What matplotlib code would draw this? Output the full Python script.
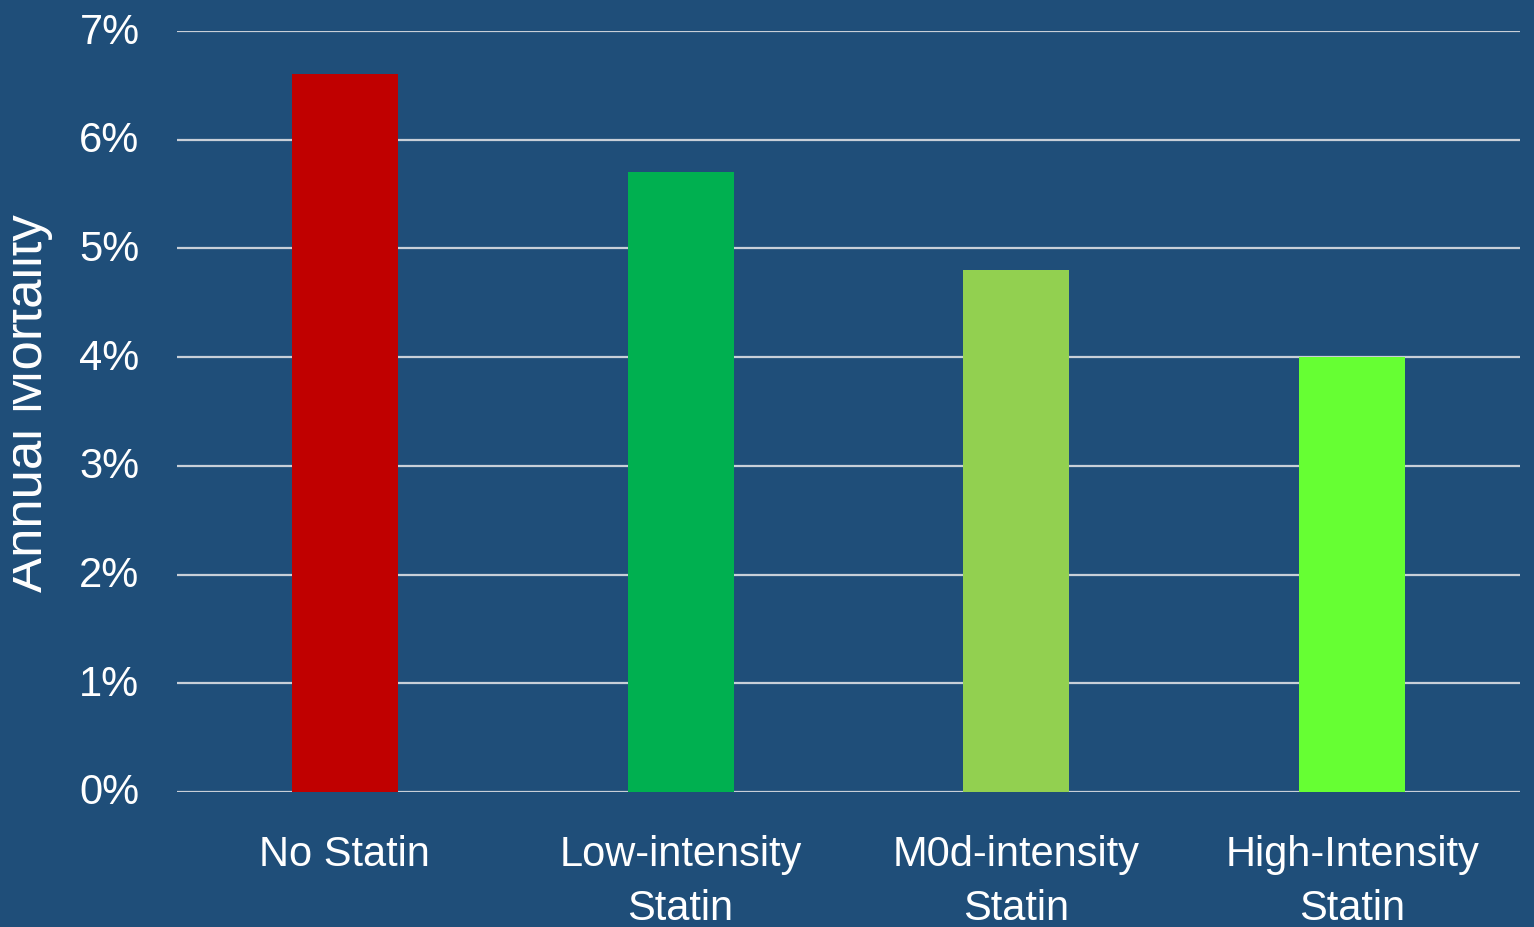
import matplotlib
matplotlib.use("Agg")
import matplotlib.pyplot as plt
from matplotlib.ticker import FuncFormatter
from matplotlib.transforms import Bbox, TransformedBbox, ScaledTranslation

categories = ["No Statin", "Low-intensity\nStatin", "M0d-intensity\nStatin", "High-Intensity\nStatin"]
values = [6.6, 5.7, 4.8, 4.0]
bar_colors = ["#C00000", "#00B050", "#92D050", "#66FF33"]
y_ticks = [0, 1, 2, 3, 4, 5, 6, 7]
y_label = "Annual Mortality"

BG = "#1F4E79"
W, H = 1534, 928
plt.rcParams["font.family"] = ["Liberation Sans", "DejaVu Sans"]

fig = plt.figure(figsize=(W / 100, H / 100), dpi=100, facecolor=BG)
ax = fig.add_axes([177 / W, 1 - 793 / H, (1520 - 177) / W, (793 - 32) / H])
ax.set_facecolor(BG)

x = list(range(len(categories)))
ax.bar(x, values, width=0.315, color=bar_colors, zorder=3)

ax.set_xlim(-0.5, 3.5)
ax.set_ylim(0, 7)
ax.set_yticks(y_ticks)
ax.yaxis.set_major_formatter(FuncFormatter(lambda v, p: f"{v:.0f}%"))
ax.set_xticks(x)
ax.set_xticklabels(categories, linespacing=1.45)
ax.grid(axis="y", color="#C8CFD8", linewidth=1.6, zorder=0)
ax.set_axisbelow(True)
for s in ax.spines.values():
    s.set_visible(False)
ax.tick_params(axis="both", length=0, colors="white", labelsize=30)
ax.tick_params(axis="y", pad=27)
ax.tick_params(axis="x", pad=30)

shift = ScaledTranslation(0, 4 / 100, fig.dpi_scale_trans)
for lab in ax.get_yticklabels():
    lab.set_transform(lab.get_transform() + shift)

t = fig.text(42 / W, 1 - 403 / H, y_label, rotation=90, rotation_mode="anchor",
             ha="center", va="baseline", color="white", fontsize=38)
t.set_clip_box(TransformedBbox(Bbox([[13 / W, 0], [1, 1]]), fig.transFigure))
t.set_clip_on(True)

fig.savefig("out.png", dpi=100, facecolor=BG)
